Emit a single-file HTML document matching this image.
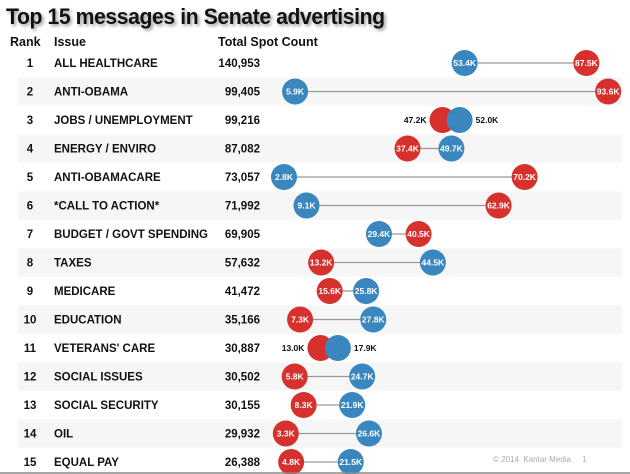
<!DOCTYPE html>
<html><head><meta charset="utf-8">
<style>
body{margin:0;width:630px;height:474px;background:#fff;font-family:"Liberation Sans",Arial,sans-serif;overflow:hidden;position:relative}
#title{position:absolute;left:6px;top:4px;font-size:22px;font-weight:bold;color:#111;text-shadow:2px 2px 3px #999;letter-spacing:-0.4px;transform:scaleX(0.96);transform-origin:left top}
.h{position:absolute;top:35px;font-size:12.5px;font-weight:bold;color:#111}
svg{position:absolute;left:0;top:0}
#foot{position:absolute;left:493px;top:455px;font-size:8px;color:#aaa}
</style></head><body>
<div id="title">Top 15 messages in Senate advertising</div>
<div class="h" style="left:10px">Rank</div>
<div class="h" style="left:54px">Issue</div>
<div class="h" style="left:218px">Total Spot Count</div>
<svg id="chart" width="630" height="474"></svg>
<div id="foot">© 2014 &nbsp;Kantar Media &nbsp;&nbsp;&nbsp;&nbsp;1</div>
<script>
const issues=["ALL HEALTHCARE","ANTI-OBAMA","JOBS / UNEMPLOYMENT","ENERGY / ENVIRO","ANTI-OBAMACARE","*CALL TO ACTION*","BUDGET /  GOVT SPENDING","TAXES","MEDICARE","EDUCATION","VETERANS' CARE","SOCIAL ISSUES","SOCIAL SECURITY","OIL","EQUAL PAY"];
const totals=["140,953","99,405","99,216","87,082","73,057","71,992","69,905","57,632","41,472","35,166","30,887","30,502","30,155","29,932","26,388"];
const demValues=[53.4,5.9,52.0,49.7,2.8,9.1,29.4,44.5,25.8,27.8,17.9,24.7,21.9,26.6,21.5];
const repValues=[87.5,93.6,47.2,37.4,70.2,62.9,40.5,13.2,15.6,7.3,13.0,5.8,8.3,3.3,4.8];
const svg=document.getElementById('chart');const NS='http://www.w3.org/2000/svg';
const xs=v=>274+v*3.57;
const ys=i=>63+i*28.5;
function mk(t,a,txt){const e=document.createElementNS(NS,t);for(const k in a)e.setAttribute(k,a[k]);if(txt!==undefined)e.textContent=txt;svg.appendChild(e);return e;}
const R=13;
issues.forEach((iss,i)=>{
 const y=ys(i);
 if(i%2==1){const b=mk('rect',{x:18,y:y-14,width:604,height:28,fill:'#f6f6f6'});}
 const r=mk('text',{x:30,y:y+4,'font-size':11.5,'font-weight':'bold','text-anchor':'middle',fill:'#111'},String(i+1));
 const l=mk('text',{x:54,y:y+4,'font-size':11.5,'font-weight':'bold',fill:'#111'},iss);
 const c=mk('text',{x:260,y:y+4,'font-size':11.5,'font-weight':'bold','text-anchor':'end',fill:'#111'},totals[i]);
 const xd=xs(demValues[i]),xr=xs(repValues[i]);
 const ln=mk('line',{x1:xd,x2:xr,y1:y,y2:y,stroke:'#999','stroke-width':1.2});
 const overlap=Math.abs(xd-xr)<2*R;
 const order=overlap?[['rep',xr,repValues[i],'#d7312e'],['dem',xd,demValues[i],'#3a87c0']]:[['dem',xd,demValues[i],'#3a87c0'],['rep',xr,repValues[i],'#d7312e']];
 order.forEach(([n,x,v,col])=>{
  const ci=mk('circle',{cx:x,cy:y,r:R,fill:col});
  if(!overlap){const t=mk('text',{x:x,y:y+3,'font-size':8.5,'font-weight':'bold','text-anchor':'middle',fill:'#fff'},v.toFixed(1)+'K');}
 });
 if(overlap){
  const lo=Math.min(xd,xr),hi=Math.max(xd,xr);
  const lv=xd<xr?demValues[i]:repValues[i],hv=xd<xr?repValues[i]:demValues[i];
  const a=mk('text',{x:lo-R-3,y:y+3,'font-size':8.5,'font-weight':'bold','text-anchor':'end',fill:'#111'},lv.toFixed(1)+'K');
  const b=mk('text',{x:hi+R+3,y:y+3,'font-size':8.5,'font-weight':'bold',fill:'#111'},hv.toFixed(1)+'K');
 }
});
const bl=mk('line',{x1:0,x2:630,y1:473,y2:473,stroke:'#888','stroke-width':1.5});
</script>
</body></html>
